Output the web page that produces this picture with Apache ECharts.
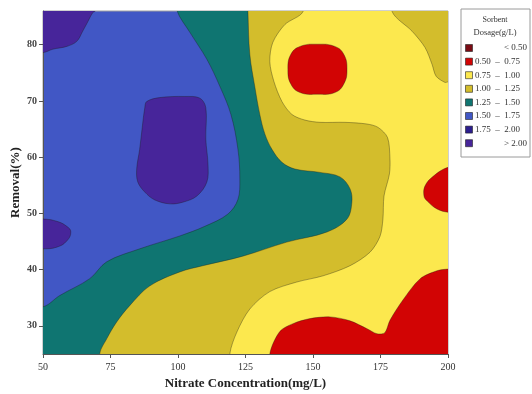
<!DOCTYPE html>
<html>
<head>
<meta charset="utf-8">
<style>
  html, body { margin: 0; padding: 0; background: #fff; }
  #chart { width: 532px; height: 394px; }
</style>
<script src="https://cdn.jsdelivr.net/npm/echarts@6/dist/echarts.min.js"></script>
</head>
<body>
<div id="chart"></div>
<script>
// Axis ranges and ticks
const xRange = [50, 200];
const yRange = [25, 86];
const yTickValues = [30, 40, 50, 60, 70, 80];

// Dosage classes (legend order) and their fill colours
const classLabels = ['< 0.50', '0.50  \u2013  0.75', '0.75  \u2013  1.00', '1.00  \u2013  1.25',
                     '1.25  \u2013  1.50', '1.50  \u2013  1.75', '1.75  \u2013  2.00', '> 2.00'];
const classColors = ['#7a0c14', '#d20404', '#fce84e', '#d3bd2c',
                     '#0f7571', '#4157c5', '#2c1e8e', '#47259a'];

// Contour boundaries, in (nitrate mg/L, removal %).
// Region where dosage < 1.50 (teal and everything below it)
const below150 = [
  [40, 33.4], [50, 33.4], [56.2, 35.4], [67.3, 38.4], [73.6, 41.4], [85.8, 43.7],
  [100.7, 46.0], [109.9, 47.7], [118.5, 49.9], [122.2, 52.5], [122.9, 56.1],
  [122.2, 61.4], [119.6, 67.6], [115.5, 72.6], [110.7, 77.4], [104.4, 82.2],
  [99.6, 86.1], [97.5, 92], [215, 92], [215, 15], [40, 15]
];
// Region where dosage < 1.25
const below125 = [
  [70, 15], [71.0, 25.0], [73.6, 27.7], [77.3, 30.7], [82.1, 33.6], [89.5, 37.1],
  [100.7, 39.6], [109.2, 40.7], [124.0, 42.4], [140.3, 44.9], [155.2, 46.7],
  [162.6, 49.0], [164.4, 52.0], [163.7, 54.4], [160.0, 56.5], [152.6, 57.3],
  [143.3, 57.9], [138.5, 59.1], [134.8, 61.4], [132.2, 64.1], [130.3, 67.6],
  [128.5, 72.4], [126.6, 78.3], [125.9, 85.9], [125.5, 92], [215, 92], [215, 15]
];
// Region where dosage < 1.00
const below100 = [
  [118.5, 15], [119.2, 25.0], [121.8, 28.9], [126.6, 33.0], [134.0, 36.1], [144.0, 37.8],
  [153.7, 38.9], [163.7, 40.7], [171.1, 43.1], [174.8, 45.9], [175.9, 49.0],
  [176.3, 53.1], [178.3, 57.0], [178.5, 59.8], [177.6, 63.5], [174.1, 65.3],
  [170.0, 65.9], [161.8, 66.2], [152.6, 66.2], [147.0, 66.6], [142.2, 67.6],
  [138.5, 69.9], [135.5, 73.5], [134.0, 77.0], [135.1, 80.4], [139.6, 83.6],
  [146.3, 85.9], [147.5, 92], [179, 92], [179.3, 85.9], [186.7, 82.4],
  [191.5, 79.5], [194.1, 76.5], [195.6, 74.4], [198.9, 73.3], [200, 73.4],
  [215, 73.6], [215, 15]
];
// Regions where dosage < 0.75
const below075Top = [
  [151.8, 80.1], [158.1, 79.7], [161.4, 78.3], [162.6, 75.6], [161.4, 73.0],
  [158.1, 71.5], [151.8, 71.2], [145.2, 71.5], [141.8, 73.0], [140.7, 75.6],
  [141.8, 78.3], [145.2, 79.7]
];
const below075Right = [
  [206, 58.4], [200, 58.2], [194.5, 56.6], [191.5, 54.9], [191.1, 53.1],
  [192.3, 52.2], [195.9, 50.8], [200, 50.2], [206, 50.0]
];
const below075Bottom = [
  [133, 15], [134.0, 25.0], [137.7, 29.0], [142.6, 30.4], [148.9, 31.3], [156.3, 31.6],
  [163.7, 30.9], [170.0, 29.5], [173.7, 28.6], [176.6, 28.8], [178.5, 31.0],
  [183.3, 34.6], [189.7, 38.4], [195.9, 39.8], [200, 40.1], [215, 40.3], [215, 15]
];
// Regions where dosage > 1.75
const above175Corner = [
  [40, 78.6], [50, 78.6], [53.6, 79.2], [58.8, 79.7], [62.5, 80.6], [64.7, 82.4],
  [66.6, 84.1], [68.4, 85.7], [69.5, 86.1], [70.5, 92], [40, 92]
];
const above175Centre = [
  [88.4, 69.9], [93.2, 70.6], [102.5, 70.8], [108.1, 70.5], [110.3, 68.8],
  [110.3, 63.2], [111.1, 58.8], [110.7, 55.6], [107.0, 53.1], [101.8, 52.0],
  [97.0, 51.7], [91.4, 52.4], [87.7, 53.8], [85.1, 55.6], [84.7, 57.9],
  [85.8, 61.4], [86.9, 65.9], [87.7, 68.8]
];
const above175Left = [
  [40, 49.0], [50, 49.0], [55.1, 48.6], [58.8, 47.7], [60.3, 46.7],
  [58.8, 45.1], [55.1, 44.0], [50, 43.7], [40, 43.7]
];

// Layers drawn bottom to top: [boundary, class index, smoothing]
const layers = [
  [below150, 4, 0.35],
  [below125, 3, 0.35],
  [below100, 2, 0.3],
  [below075Top, 1, 0.45],
  [below075Right, 1, 0.4],
  [below075Bottom, 1, 0.3],
  [above175Corner, 7, 0.35],
  [above175Centre, 7, 0.35],
  [above175Left, 7, 0.45]
];

const serif = '"Liberation Serif", "DejaVu Serif", serif';
const chart = echarts.init(document.getElementById('chart'), null, { renderer: 'canvas' });

const series = layers.map(function (layer, i) {
  const pts = layer[0];
  const color = classColors[layer[1]];
  const smooth = layer[2];
  return {
    type: 'custom',
    name: 'layer' + i,
    coordinateSystem: 'cartesian2d',
    clip: true,
    silent: true,
    animation: false,
    z: 2 + i,
    data: [[xRange[0], yRange[0]]],
    renderItem: function (params, api) {
      return {
        type: 'polygon',
        shape: { points: pts.map(function (p) { return api.coord(p); }), smooth: smooth },
        style: { fill: color, stroke: 'rgba(25,25,20,0.5)', lineWidth: 0.7 }
      };
    }
  };
});

// Legend box drawn as graphic elements
const legendX = 461, legendY = 9, rowY0 = 48, rowStep = 13.6;
const legendChildren = [
  { type: 'rect', shape: { x: legendX, y: legendY, width: 69, height: 148 },
    style: { fill: '#fff', stroke: '#9a9a9a', lineWidth: 1 } },
  { type: 'text', x: 495, y: 20, style: { text: 'Sorbent', font: '8px ' + serif, fill: '#333', align: 'center', verticalAlign: 'middle' } },
  { type: 'text', x: 495, y: 33, style: { text: 'Dosage(g/L)', font: '8.5px ' + serif, fill: '#333', align: 'center', verticalAlign: 'middle' } }
];
classLabels.forEach(function (label, i) {
  const y = rowY0 + i * rowStep;
  legendChildren.push({ type: 'rect', shape: { x: 465.5, y: y - 3.5, width: 7, height: 7 },
    style: { fill: classColors[i], stroke: '#222', lineWidth: 0.6 } });
  const isOpen = label.charAt(0) === '<' || label.charAt(0) === '>';
  legendChildren.push({ type: 'text', x: isOpen ? 527 : 475, y: y,
    style: { text: label, font: '9px ' + serif, fill: '#333', align: isOpen ? 'right' : 'left', verticalAlign: 'middle' } });
});

chart.setOption({
  animation: false,
  backgroundColor: '#fff',
  grid: {
    left: 43, right: 84, top: 11, bottom: 40,
    containLabel: false, outerBoundsMode: 'none',
    show: true, backgroundColor: classColors[5], borderColor: '#a0a0a0', borderWidth: 1
  },
  xAxis: {
    type: 'value', min: xRange[0], max: xRange[1], interval: 25,
    name: 'Nitrate Concentration(mg/L)', nameLocation: 'middle', nameGap: 23, nameMoveOverlap: false,
    nameTextStyle: { fontFamily: serif, fontWeight: 'bold', fontSize: 13, color: '#222' },
    axisLine: { show: true, onZero: false, lineStyle: { color: '#555', width: 1 } },
    axisTick: { show: true, length: 4, lineStyle: { color: '#555' } },
    axisLabel: { fontFamily: serif, fontSize: 10, color: '#333', margin: 8 },
    splitLine: { show: false }
  },
  yAxis: {
    type: 'value', min: yRange[0], max: yRange[1],
    name: 'Removal(%)', nameLocation: 'middle', nameGap: 21, nameMoveOverlap: false,
    nameTextStyle: { fontFamily: serif, fontWeight: 'bold', fontSize: 13, color: '#222' },
    axisLine: { show: true, onZero: false, lineStyle: { color: '#555', width: 1 } },
    axisTick: { show: true, length: 4, lineStyle: { color: '#555' }, customValues: yTickValues },
    axisLabel: { fontFamily: serif, fontSize: 10, fontWeight: 'bold', color: '#444', margin: 6, customValues: yTickValues },
    splitLine: { show: false }
  },
  graphic: { elements: [{ type: 'group', children: legendChildren }] },
  series: series
});
</script>
</body>
</html>
